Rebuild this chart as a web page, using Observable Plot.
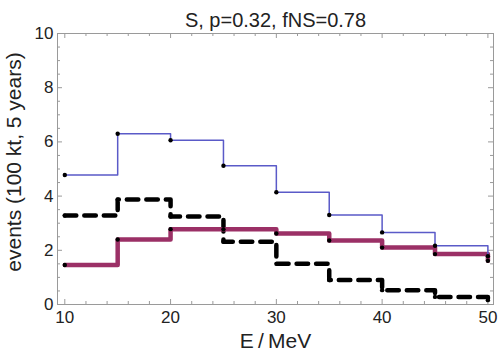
<!DOCTYPE html>
<html><head><meta charset="utf-8">
<script src="https://cdn.jsdelivr.net/npm/d3@7"></script>
<script src="https://cdn.jsdelivr.net/npm/@observablehq/plot@0.6"></script>
<style>body{margin:0;background:#fff;} svg{font-family:"Liberation Sans",Arial,Helvetica,sans-serif;}</style>
</head><body><div id="chart"></div>
<script>
const titleText = "S, p=0.32, fNS=0.78";
const xLabel = "E\u2009/\u2009MeV";
const yLabel = "events (100 kt, 5 years)";
const energies = [10, 15, 20, 25, 30, 35, 40, 45, 50];
const blueSeries = [4.78, 6.30, 6.06, 5.12, 4.14, 3.30, 2.66, 2.17, 1.78];
const redSeries = [1.46, 2.40, 2.78, 2.78, 2.62, 2.36, 2.10, 1.86, 1.61];
const blackSeries = [3.28, 3.87, 3.25, 2.32, 1.50, 0.90, 0.53, 0.28, 0.16];
const xMajor = [10, 20, 30, 40, 50];
const xMinor = [12, 14, 16, 18, 22, 24, 26, 28, 32, 34, 36, 38, 42, 44, 46, 48];
const yMajor = [0, 2, 4, 6, 8, 10];
const yMinor = [0.5, 1, 1.5, 2.5, 3, 3.5, 4.5, 5, 5.5, 6.5, 7, 7.5, 8.5, 9, 9.5];
const xDomain = [9.31, 50.53];
const yDomain = [0, 10];

const frameColor = "#9a9a9a";
const tickMarks = (vals, len) => [
  Plot.ruleX(vals, {x: d => d, y1: yDomain[0], y2: yDomain[0], insetTop: -len, stroke: frameColor}),
  Plot.ruleX(vals, {x: d => d, y1: yDomain[1], y2: yDomain[1], insetBottom: -len, stroke: frameColor}),
];
const tickMarksY = (vals, len) => [
  Plot.ruleY(vals, {y: d => d, x1: xDomain[0], x2: xDomain[0], insetRight: -len, stroke: frameColor}),
  Plot.ruleY(vals, {y: d => d, x1: xDomain[1], x2: xDomain[1], insetLeft: -len, stroke: frameColor}),
];
const series = (vals, opts) => Plot.line(energies, {x: d => d, y: (d, i) => vals[i], curve: "step-after", ...opts});
const dots = (vals) => Plot.dot(energies, {x: d => d, y: (d, i) => vals[i], r: 2.2, fill: "#000"});

const chart = Plot.plot({
  width: 498, height: 358,
  marginTop: 33, marginBottom: 54, marginLeft: 57, marginRight: 5,
  x: {domain: xDomain},
  y: {domain: yDomain},
  style: {fontFamily: '"Liberation Sans", Arial, Helvetica, sans-serif', fontSize: "17px", color: "#222", background: "#fff"},
  marks: [
    Plot.frame({stroke: frameColor}),
    ...tickMarks(xMajor, 5), ...tickMarks(xMinor, 3),
    ...tickMarksY(yMajor, 5), ...tickMarksY(yMinor, 3),
    Plot.axisX({ticks: xMajor, tickSize: 0, tickPadding: 6, label: null, fontSize: 17}),
    Plot.axisY({ticks: yMajor, tickSize: 0, tickPadding: 4, label: null, fontSize: 17}),
    series(blackSeries, {stroke: "#000", strokeWidth: 4.5, strokeDasharray: "11.5,8"}),
    series(redSeries, {stroke: "#9b3066", strokeWidth: 4.5}),
    series(blueSeries, {stroke: "#5a5ac8", strokeWidth: 1.5}),
    dots(blackSeries), dots(redSeries), dots(blueSeries),
    Plot.text([titleText], {frameAnchor: "top", dy: -21, fontSize: 20, fill: "#222"}),
    Plot.text([xLabel], {frameAnchor: "bottom", dy: 43, fontSize: 21, fill: "#222"}),
    Plot.text([yLabel], {frameAnchor: "left", textAnchor: "middle", dx: -43, dy: -7, rotate: -90, fontSize: 21, fill: "#222"})
  ]
});
document.getElementById("chart").append(chart);
</script>
</body></html>
